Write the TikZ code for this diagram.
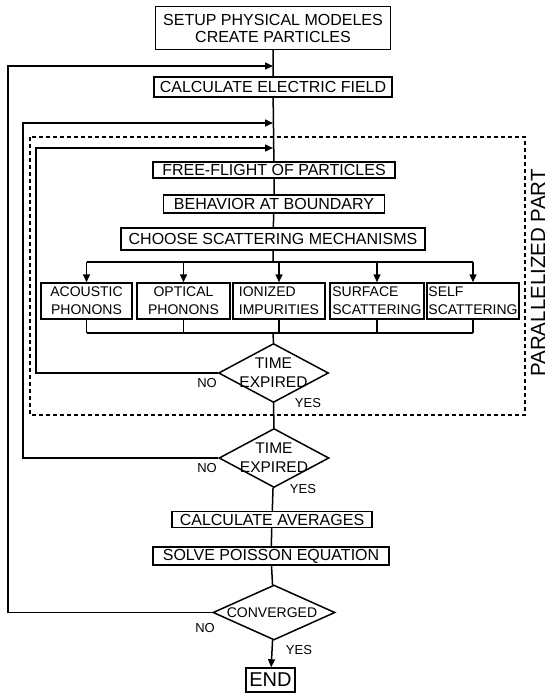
\documentclass[tikz,border=0pt]{standalone}
\usepackage{fontspec}
\setmainfont{Liberation Sans}
\usepackage{tikz}
\usetikzlibrary{arrows.meta,shapes.geometric,calc}

\tikzset{
  flow/.style={draw,inner sep=1pt,align=center,font=\fontsize{16}{17}\selectfont},
  mech/.style={draw,inner sep=1pt,minimum height=36pt,font=\fontsize{14}{18}\selectfont},
  decide/.style={draw,diamond,inner sep=0pt,minimum width=110pt,minimum height=59pt},
  dtext/.style={align=center,inner sep=0pt,font=\fontsize{15.5}{19}\selectfont},
  yn/.style={inner sep=0pt,font=\fontsize{13}{13}\selectfont},
  arr/.style={-{Triangle[length=8pt,width=7pt]}},
}

\begin{document}
\begin{tikzpicture}[x=1pt,y=-1pt,line width=1.5pt]
\useasboundingbox (0,0) rectangle (549,693);

% main column
\node[flow,minimum width=235pt,minimum height=43pt] (setup) at (273,28) {SETUP PHYSICAL MODELES\\CREATE PARTICLES};
\node[flow,minimum width=238pt,minimum height=20pt] (efield) at (273,87) {CALCULATE ELECTRIC FIELD};
\node[flow,minimum width=242pt,minimum height=16pt] (flight) at (274,170) {FREE-FLIGHT OF PARTICLES};
\node[flow,minimum width=221pt,minimum height=18pt] (boundary) at (274,204) {BEHAVIOR AT BOUNDARY};
\node[flow,minimum width=304pt,minimum height=22pt] (choose) at (273,239) {CHOOSE SCATTERING MECHANISMS};

\foreach \n/\x/\w/\al/\txt in {ac/86.5/91/center/{ACOUSTIC\\PHONONS},op/183.5/93/center/{OPTICAL\\PHONONS},io/279/92/left/{IONIZED\\IMPURITIES},su/377/94/left/{SURFACE\\SCATTERING},se/473/92/left/{SELF\\SCATTERING}}
  \node[mech,minimum width=\w pt,align=\al] (\n) at (\x,301) {\txt};

\node[decide] (exp1) at (273.5,373) {};
\node[dtext] (exp1t) at (exp1) {TIME\\EXPIRED};
\node[decide] (exp2) at (274,458) {};
\node[dtext] (exp2t) at (exp2) {TIME\\EXPIRED};

\node[flow,minimum width=200pt,minimum height=16pt] (avg) at (272,519.5) {CALCULATE AVERAGES};
\node[flow,minimum width=236pt,minimum height=18pt] (poisson) at (271,556) {SOLVE POISSON EQUATION};
\node[decide,minimum width=122pt,minimum height=55pt] (conv) at (274,612.5) {};
\node[dtext,font=\fontsize{14}{18}\selectfont] (convt) at (272,613) {CONVERGED};
\node[flow,minimum width=49pt,minimum height=24pt,font=\fontsize{20}{20}\selectfont] (end) at (270.5,680) {END};

% yes / no
\node[yn] (no1) at (207,383) {NO};
\node[yn] (yes1) at (308,403) {YES};
\node[yn] (no2) at (207,468) {NO};
\node[yn] (yes2) at (303,489) {YES};
\node[yn] (no3) at (205,628) {NO};
\node[yn] (yes3) at (299,650) {YES};

% parallel region
\draw[dash pattern=on 4pt off 3pt] (30,137) rectangle (525,415);
\node[rotate=90,inner sep=0pt,font=\fontsize{20.5}{21}\selectfont] (par) at (538,273) {PARALLELIZED PART};

% junctions
\coordinate (j1) at (273,66);
\coordinate (j2) at (273,123);
\coordinate (j3) at (273,148);
\coordinate (dist) at (273,262);
\coordinate (coll) at (273,333);
\coordinate (c1) at (36,148);
\coordinate (c2) at (23,123);
\coordinate (c3) at (8,66);

\draw (setup) -- (efield) -- (flight) -- (boundary) -- (choose) -- (dist);
\draw (ac.north |- dist) -- (se.north |- dist);
\foreach \n in {ac,op,io,su,se} {
  \draw[arr] (\n.north |- dist) -- (\n.north);
  \draw (\n.south) -- (\n.south |- coll);}
\draw (ac.south |- coll) -- (se.south |- coll);
\draw (coll) -- (exp1.north);
\draw (exp1) -- (exp2);
\draw (exp2) -- (avg) -- (poisson) -- (conv);
\draw[arr] (conv) -- (end);

% loops back
\draw[arr] (exp1.west) -| (c1) -- (j3);
\draw[arr] (exp2.west) -| (c2) -- (j2);
\draw[arr] (conv.west) -| (c3) -- (j1);
\end{tikzpicture}
\end{document}
